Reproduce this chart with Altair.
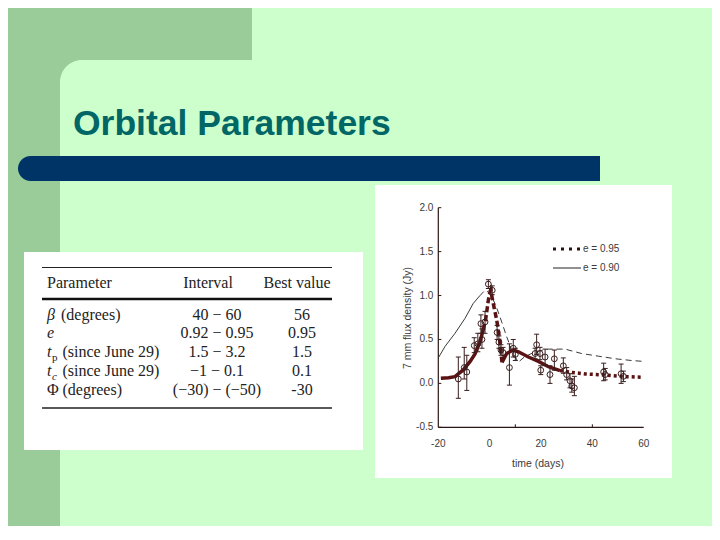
import altair as alt
import pandas as pd

# ---------------- data ----------------
title_text = "Orbital Parameters"

tbl_header = ["Parameter", "Interval", "Best value"]
param_sym = ["β", "e", "t", "t", "Φ"]
param_sub = ["", "", "p", "c", ""]
param_rest = ["(degrees)", "", "(since June 29)", "(since June 29)", "(degrees)"]
intervals = ["40 − 60", "0.92 − 0.95", "1.5 − 3.2", "−1 − 0.1", "(−30) − (−50)"]
best_vals = ["56", "0.95", "1.5", "0.1", "-30"]

x_ticks = [-20, 0, 20, 40, 60]
x_inner_ticks = [10, 40]
y_ticks = [-0.5, 0.0, 0.5, 1.0, 1.5, 2.0]
y_tick_labels = ["-0.5", "0.0", "0.5", "1.0", "1.5", "2.0"]
x_title = "time (days)"
y_title = "7 mm flux density (Jy)"
legend_labels = ["e = 0.95", "e = 0.90"]

# model e = 0.95 (thick)
thick_t = [-19.0, -16.0, -13.5, -10.3, -7.6, -5.7, -3.75, -2.5, -1.5, -0.5, 0.15, 0.4,
           1.4, 2.75, 3.9, 4.8, 6.65, 9.2, 11.2, 15.1, 19.0, 22.9, 27.4, 32.0, 37.2,
           45.0, 52.8, 60.0]
thick_f = [0.058, 0.065, 0.077, 0.153, 0.25, 0.335, 0.475, 0.61, 0.74, 0.95, 1.044, 1.063,
           0.91, 0.72, 0.50, 0.24, 0.34, 0.38, 0.36, 0.30, 0.25, 0.19, 0.145, 0.125, 0.107,
           0.096, 0.077, 0.07]

# model e = 0.90 (thin)
thin_solid_t = [-20.0, -17.4, -13.5, -9.6, -6.4, -3.75, -2.3]
thin_solid_f = [0.29, 0.42, 0.57, 0.74, 0.91, 1.0, 1.045]
thin_dash_t = [-1.0, 0.8, 2.5, 4.7, 6.65, 8.6, 11.1, 13.5, 17.7, 22.9, 29.4, 35.8,
               42.3, 49.0, 55.4, 60.0]
thin_dash_f = [1.05, 0.99, 0.88, 0.70, 0.53, 0.38, 0.24, 0.30, 0.36, 0.39, 0.39,
               0.34, 0.31, 0.28, 0.26, 0.25]

# observations
obs_t = [-12.2, -9.9, -8.9, -6.0, -4.6, -3.4, -3.0, -1.8, -0.5, 1.0, 2.9, 3.6, 4.4, 5.2,
         7.7, 9.2, 10.0, 17.7, 18.3, 19.6, 19.9, 21.6, 23.5, 25.2, 28.7, 30.0, 31.3,
         32.0, 33.0, 44.4, 45.0, 51.2, 52.1]
obs_f = [0.05, 0.18, 0.13, 0.43, 0.45, 0.68, 0.50, 0.70, 1.13, 1.06, 0.58, 0.47, 0.38,
         0.35, 0.18, 0.40, 0.33, 0.34, 0.44, 0.34, 0.15, 0.30, 0.10, 0.28, 0.20, 0.10,
         0.03, -0.03, -0.05, 0.13, 0.10, 0.11, 0.08]
obs_lo = [-0.17, 0.05, -0.08, 0.35, 0.36, 0.57, 0.40, 0.57, 1.08, 1.01, 0.50, 0.40, 0.32,
          0.29, -0.02, 0.30, 0.26, 0.28, 0.33, 0.27, 0.10, 0.21, 0.00, 0.15, 0.115, 0.04,
          -0.05, -0.10, -0.14, 0.03, 0.04, 0.00, 0.02]
obs_hi = [0.30, 0.41, 0.32, 0.52, 0.57, 0.78, 0.62, 0.82, 1.18, 1.11, 0.66, 0.54, 0.44,
          0.41, 0.45, 0.50, 0.40, 0.40, 0.56, 0.41, 0.20, 0.39, 0.20, 0.38, 0.29, 0.18,
          0.11, 0.05, 0.08, 0.23, 0.17, 0.22, 0.14]

# ---------------- style / layout ----------------
M = 8
BG = "#CCFFCC"
DARK = "#99CC99"
NAVY = "#003366"
TEAL = "#006666"
AX = "#2a1616"
MAROON = "#5C1212"
PT = "#3a1e1e"
SERIF = "Liberation Serif"
SANS = "Liberation Sans"

one = pd.DataFrame({"k": [0]})


def px(v):
    return alt.value(v - M)


def rect(x1, y1, x2, y2, color, **kw):
    return alt.Chart(one).mark_rect(color=color, **kw).encode(
        x=px(x1), x2=px(x2), y=px(y1), y2=px(y2))


def hline(x1, x2, y, width, color, dash=None):
    kw = dict(color=color, strokeWidth=width)
    if dash:
        kw["strokeDash"] = dash
    return alt.Chart(one).mark_rule(**kw).encode(x=px(x1), x2=px(x2), y=px(y))


def label(s, x, y, size, color, font, align="left", baseline="alphabetic",
          weight="normal", style="normal", angle=None):
    kw = dict(text=s, fontSize=size, color=color, font=font, align=align,
              baseline=baseline, fontWeight=weight, fontStyle=style)
    if angle is not None:
        kw["angle"] = angle
    return alt.Chart(one).mark_text(**kw).encode(x=px(x), y=px(y))


XS = alt.Scale(domain=[-20, 60], range=[438.3 - M, 643.7 - M], nice=False, zero=False)
YS = alt.Scale(domain=[-0.5, 2.0], range=[427.3 - M, 207.7 - M], nice=False, zero=False)


def X(f="t"):
    return alt.X(f"{f}:Q", scale=XS, axis=None)


def Y(f="f"):
    return alt.Y(f"{f}:Q", scale=YS, axis=None)


layers = []

# slide background
layers += [
    rect(0, 0, 60, 540, DARK),
    rect(0, 0, 252, 60, DARK),
    rect(60, 60, 110, 110, DARK),
    rect(60, 60, 720, 540, BG, cornerRadiusTopLeft=22),
    label(title_text, 73, 135, 35.5, TEAL, SANS, weight="bold"),
    rect(18, 156, 600, 181, NAVY, cornerRadiusTopLeft=12.5, cornerRadiusBottomLeft=12.5),
]

# table panel
layers += [
    rect(24, 252, 363, 450, "white"),
    hline(42, 332, 267.5, 1.2, "#222"),
    hline(42, 332, 299, 2.5, "#111"),
    hline(42, 332, 408, 1.3, "#222"),
    label(tbl_header[0], 47, 288, 16, "#222", SERIF),
    label(tbl_header[1], 208, 288, 16, "#222", SERIF, align="center"),
    label(tbl_header[2], 297, 288, 16, "#222", SERIF, align="center"),
]
row_y = [320, 338, 357, 376, 395]
sym_w = {"β": 9.5, "e": 7, "t": 5.0, "Φ": 11}
for i in range(5):
    yb = row_y[i]
    sym = param_sym[i]
    layers.append(label(sym, 47, yb, 16, "#222", SERIF,
                        style="italic" if sym in ("β", "e", "t") else "normal"))
    xr = 47 + sym_w[sym]
    if param_sub[i]:
        layers.append(label(param_sub[i], xr, yb + 4, 11, "#222", SERIF,
                            style="normal" if param_sub[i] == "p" else "italic"))
        xr += 6
    if param_rest[i]:
        layers.append(label(param_rest[i], xr + 4.5, yb, 16, "#222", SERIF))
    layers.append(label(intervals[i], 217, yb, 16, "#222", SERIF, align="center"))
    layers.append(label(best_vals[i], 302, yb, 16, "#222", SERIF, align="center"))

# chart panel
layers.append(rect(375, 185, 672, 478, "white"))

# axes
xaxis = pd.DataFrame({"t": [-20], "t2": [60], "f": [-0.5]})
yaxis = pd.DataFrame({"t": [-20], "f": [-0.5], "f2": [2.0]})
layers.append(alt.Chart(xaxis).mark_rule(color=AX, strokeWidth=1.2).encode(
    x=X(), x2="t2:Q", y=Y()))
layers.append(alt.Chart(yaxis).mark_rule(color=AX, strokeWidth=1.2).encode(
    x=X(), y=Y(), y2="f2:Q"))
ytk = pd.DataFrame({"t": [-20] * len(y_ticks), "f": y_ticks, "lab": y_tick_labels})
layers.append(alt.Chart(ytk).mark_rule(color=AX, strokeWidth=1, x2Offset=3).encode(
    x=X(), x2="t:Q", y=Y()))
layers.append(alt.Chart(ytk).mark_text(align="right", baseline="middle", dx=-5,
                                        fontSize=10, font=SANS, color="#3a3a3a").encode(
    x=X(), y=Y(), text="lab:N"))
xtk = pd.DataFrame({"t": x_inner_ticks, "f": [-0.5] * len(x_inner_ticks)})
layers.append(alt.Chart(xtk).mark_rule(color=AX, strokeWidth=1, y2Offset=-3).encode(
    x=X(), y=Y(), y2="f:Q"))
xlb = pd.DataFrame({"t": x_ticks, "f": [-0.5] * len(x_ticks),
                    "lab": [str(v) for v in x_ticks]})
layers.append(alt.Chart(xlb).mark_text(align="center", baseline="middle", dy=17,
                                        fontSize=10, font=SANS, color="#3a3a3a").encode(
    x=X(), y=Y(), text="lab:N"))
layers.append(label(x_title, 538, 464, 10.5, "#3a3a3a", SANS, align="center", baseline="middle"))
layers.append(label(y_title, 408, 318, 10.5, "#3a3a3a", SANS, align="center",
                    baseline="middle", angle=270))

# model curves
thick = pd.DataFrame({"t": thick_t, "f": thick_f})
seg_a = thick[thick.t <= -2.5]
seg_b = thick[(thick.t >= -2.5) & (thick.t <= 4.8)]
seg_c = thick[(thick.t >= 4.8) & (thick.t <= 27.4)]
seg_d = thick[thick.t >= 27.4]
layers.append(alt.Chart(pd.DataFrame({"t": thin_solid_t, "f": thin_solid_f})).mark_line(
    color="#222", strokeWidth=0.9).encode(x=X(), y=Y(), order="t:Q"))
layers.append(alt.Chart(pd.DataFrame({"t": thin_dash_t, "f": thin_dash_f})).mark_line(
    color="#222", strokeWidth=0.9, strokeDash=[6, 4]).encode(x=X(), y=Y(), order="t:Q"))
layers.append(alt.Chart(seg_a).mark_line(color=MAROON, strokeWidth=3.5).encode(
    x=X(), y=Y(), order="t:Q"))
layers.append(alt.Chart(seg_b).mark_line(color=MAROON, strokeWidth=3.5, strokeDash=[6, 3]).encode(
    x=X(), y=Y(), order="t:Q"))
layers.append(alt.Chart(seg_c).mark_line(color=MAROON, strokeWidth=3.5).encode(
    x=X(), y=Y(), order="t:Q"))
layers.append(alt.Chart(seg_d).mark_line(color=MAROON, strokeWidth=3.5, strokeDash=[3, 3]).encode(
    x=X(), y=Y(), order="t:Q"))

# observations
obs = pd.DataFrame({"t": obs_t, "f": obs_f, "lo": obs_lo, "hi": obs_hi})
caps = pd.DataFrame({"t": obs_t + obs_t, "f": obs_lo + obs_hi})
layers.append(alt.Chart(obs).mark_rule(color=PT, strokeWidth=1).encode(
    x=X(), y=Y("lo"), y2="hi:Q"))
layers.append(alt.Chart(caps).mark_rule(color=PT, strokeWidth=1, xOffset=-2.5,
                                         x2Offset=2.5).encode(x=X(), x2="t:Q", y=Y()))
layers.append(alt.Chart(obs).mark_point(shape="circle", filled=False, size=34, color=PT,
                                         strokeWidth=1, opacity=1).encode(x=X(), y=Y()))

# legend
layers += [
    hline(553, 581, 249, 3, "#2a1010", dash=[3, 5]),
    label(legend_labels[0], 583, 249, 10, "#3a3a3a", SANS, baseline="middle"),
    hline(553, 581, 268, 1, "#222"),
    label(legend_labels[1], 583, 268, 10, "#3a3a3a", SANS, baseline="middle"),
]

chart = alt.layer(*layers).properties(
    width=720 - 2 * M, height=518, background=BG, padding=0, autosize="none"
).configure_view(stroke=None)

chart.save("out.html", embed_options={"renderer": "svg", "actions": False})
